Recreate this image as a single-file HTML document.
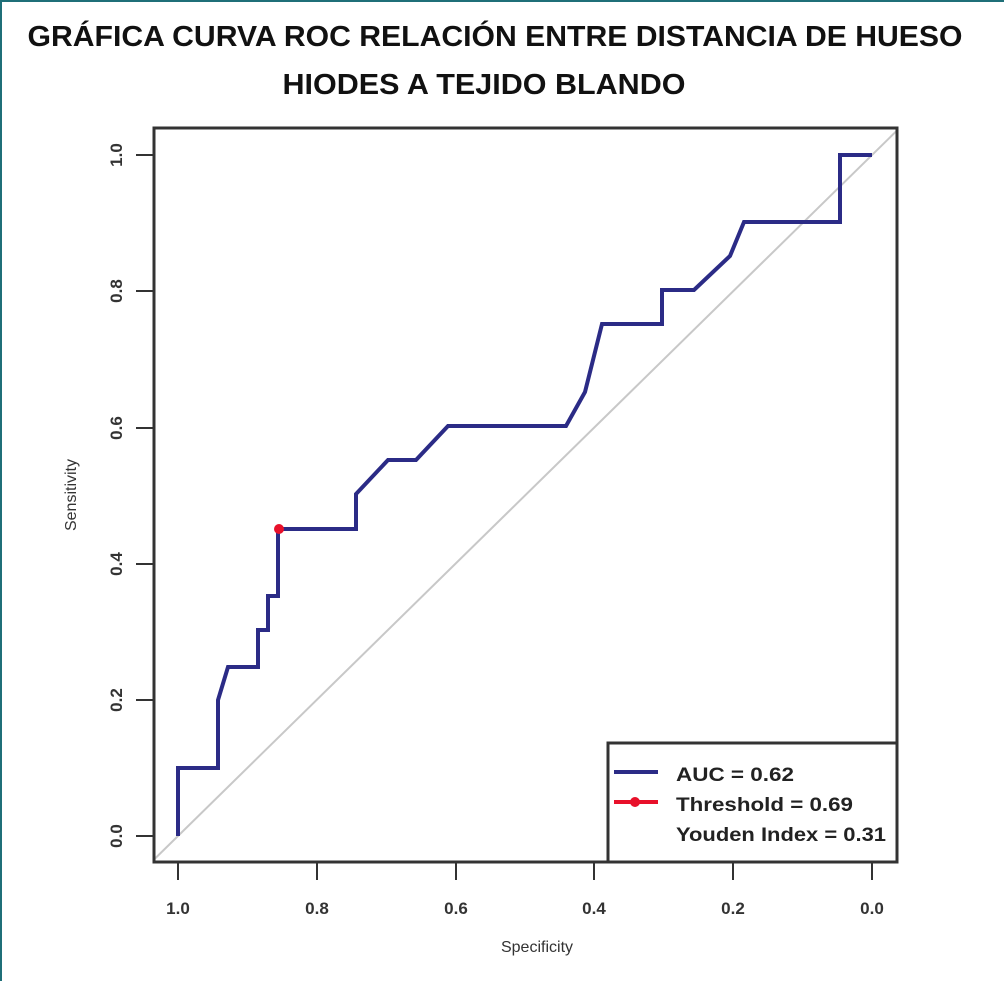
<!DOCTYPE html>
<html><head><meta charset="utf-8"><style>
html,body{margin:0;padding:0;background:#fff;}
body{width:1004px;height:981px;overflow:hidden;}
</style></head><body>
<svg width="1004" height="981" viewBox="0 0 1004 981" xmlns="http://www.w3.org/2000/svg" font-family="Liberation Sans, Arial, sans-serif">
<rect x="0" y="0" width="1004" height="981" fill="#fff"/>
<line x1="0" y1="1" x2="1004" y2="1" stroke="#1f6f78" stroke-width="2"/>
<line x1="1" y1="0" x2="1" y2="981" stroke="#1f6f78" stroke-width="2"/>
<text x="495" y="46" text-anchor="middle" font-size="29" font-weight="bold" fill="#111" textLength="935" lengthAdjust="spacingAndGlyphs">GRÁFICA CURVA ROC RELACIÓN ENTRE DISTANCIA DE HUESO</text>
<text x="484" y="94" text-anchor="middle" font-size="29" font-weight="bold" fill="#111" textLength="403" lengthAdjust="spacingAndGlyphs">HIODES A TEJIDO BLANDO</text>
<defs><clipPath id="c"><rect x="155" y="129" width="742" height="733"/></clipPath></defs>
<line x1="153" y1="860.5" x2="898" y2="129.5" stroke="#c8c8c8" stroke-width="2" clip-path="url(#c)"/>
<polyline fill="none" stroke="#2b2b86" stroke-width="4" stroke-linejoin="miter" points="178,836 178,768 218,768 218,700 228,667 258,667 258,630 268,630 268,596 278,596 278,529 356,529 356,494 388,460 416,460 448,426 566,426 585,392 602,324 662,324 662,290 694,290 730,256 744,222 840,222 840,155 872,155"/>
<circle cx="279" cy="529" r="5" fill="#e8102a"/>
<rect x="154" y="128" width="743" height="734" fill="none" stroke="#333" stroke-width="3"/>
<g stroke="#333" stroke-width="2">
<line x1="178" y1="862" x2="178" y2="880"/><line x1="317" y1="862" x2="317" y2="880"/><line x1="456" y1="862" x2="456" y2="880"/><line x1="594" y1="862" x2="594" y2="880"/><line x1="733" y1="862" x2="733" y2="880"/><line x1="872" y1="862" x2="872" y2="880"/>
<line x1="154" y1="836" x2="136" y2="836"/><line x1="154" y1="700" x2="136" y2="700"/><line x1="154" y1="564" x2="136" y2="564"/><line x1="154" y1="428" x2="136" y2="428"/><line x1="154" y1="291" x2="136" y2="291"/><line x1="154" y1="155" x2="136" y2="155"/>
</g>
<g font-size="17" font-weight="bold" fill="#333" text-anchor="middle">
<text x="178" y="914">1.0</text><text x="317" y="914">0.8</text><text x="456" y="914">0.6</text><text x="594" y="914">0.4</text><text x="733" y="914">0.2</text><text x="872" y="914">0.0</text>
<text transform="translate(122,836) rotate(-90)">0.0</text>
<text transform="translate(122,700) rotate(-90)">0.2</text>
<text transform="translate(122,564) rotate(-90)">0.4</text>
<text transform="translate(122,428) rotate(-90)">0.6</text>
<text transform="translate(122,291) rotate(-90)">0.8</text>
<text transform="translate(122,155) rotate(-90)">1.0</text>
</g>
<text x="537" y="952" text-anchor="middle" font-size="16" fill="#333">Specificity</text>
<text transform="translate(76,495) rotate(-90)" text-anchor="middle" font-size="16" fill="#333">Sensitivity</text>
<rect x="608" y="743" width="289" height="119" fill="#fff" stroke="#333" stroke-width="3"/>
<line x1="614" y1="772" x2="658" y2="772" stroke="#2b2b86" stroke-width="4"/>
<line x1="614" y1="802" x2="658" y2="802" stroke="#e8102a" stroke-width="4"/>
<circle cx="635" cy="802" r="5" fill="#e8102a"/>
<g font-size="19" font-weight="bold" fill="#222">
<text x="676" y="781" textLength="118" lengthAdjust="spacingAndGlyphs">AUC = 0.62</text>
<text x="676" y="811" textLength="177" lengthAdjust="spacingAndGlyphs">Threshold = 0.69</text>
<text x="676" y="841" textLength="210" lengthAdjust="spacingAndGlyphs">Youden Index = 0.31</text>
</g>
</svg>
</body></html>
